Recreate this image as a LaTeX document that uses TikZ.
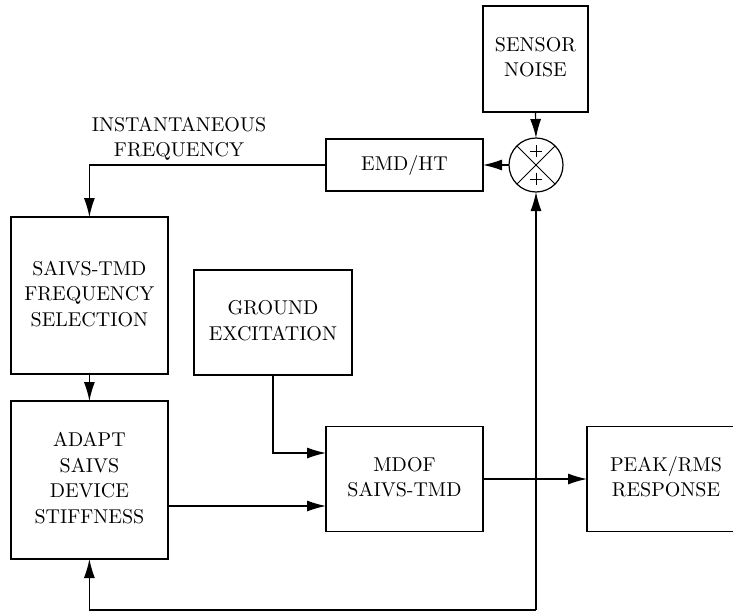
\documentclass[tikz,border=0pt]{standalone}
\usepackage{graphicx}
\usetikzlibrary{arrows.meta,calc}
\newcommand\bt[1]{\scalebox{2}{\fontsize{10}{12.75}\selectfont\begin{tabular}{@{}c@{}}#1\end{tabular}}}
\begin{document}
\begin{tikzpicture}[x=1pt,y=-1pt,
  blk/.style={draw,line width=1.2pt,inner sep=0pt,outer sep=0pt,align=center},
  lbl/.style={inner sep=0pt,align=center},
  arr/.style={line width=1.2pt,-{Latex[length=19pt,width=11pt]}}]
\useasboundingbox (0,0) rectangle (733,613);
\clip (0,0) rectangle (733,613);
\node[blk,minimum width=105pt,minimum height=106pt] (sn) at (535.5,59) {\bt{SENSOR\\NOISE}};
\node[draw,circle,line width=1.2pt,minimum size=54pt,inner sep=0pt,outer sep=0pt] (sum) at (536,165) {};
\draw[line width=1pt] (sum.north east) -- (sum.south west) (sum.north west) -- (sum.south east);
\draw[line width=0.8pt] ($(sum.center)+(-6,-14)$) -- ($(sum.center)+(6,-14)$)
  ($(sum.center)+(0,-20)$) -- ($(sum.center)+(0,-8)$)
  ($(sum.center)+(-6,14)$) -- ($(sum.center)+(6,14)$)
  ($(sum.center)+(0,8)$) -- ($(sum.center)+(0,20)$);
\node[blk,minimum width=157pt,minimum height=52pt] (emd) at (404.5,165) {\bt{EMD/HT}};
\node[lbl] (inst) at (179,139) {\bt{INSTANTANEOUS\\FREQUENCY}};
\node[blk,minimum width=157pt,minimum height=157pt] (sel) at (89.4,295.5) {\bt{SAIVS-TMD\\FREQUENCY\\SELECTION}};
\node[blk,minimum width=157pt,minimum height=158pt] (adapt) at (89.4,480) {\bt{ADAPT\\SAIVS\\DEVICE\\STIFFNESS}};
\node[blk,minimum width=158pt,minimum height=105pt] (ground) at (273,322.5) {\bt{GROUND\\EXCITATION}};
\node[blk,minimum width=157pt,minimum height=105pt] (mdof) at (404.5,479) {\bt{MDOF\\SAIVS-TMD}};
\node[blk,minimum width=158pt,minimum height=105pt] (peak) at (666,479) {\bt{PEAK/RMS\\RESPONSE}};
\coordinate (gin) at (326,453);
\coordinate (ain) at (326,506);
\coordinate (fb) at (536,610);
\draw[arr] (sn.south) -- (sum.north);
\draw[arr] (sum.west) -- (emd.east);
\draw[arr] (emd.west) -| (sel.north);
\draw[arr] (sel.south) -- (adapt.north);
\draw[arr] (ground.south) |- (gin);
\draw[arr] (adapt.east |- ain) -- (ain);
\draw[arr] (mdof.east) -- (peak.west);
\draw[arr] (fb) -- (sum.south);
\draw[arr] (fb) -| (adapt.south);
\end{tikzpicture}
\end{document}
